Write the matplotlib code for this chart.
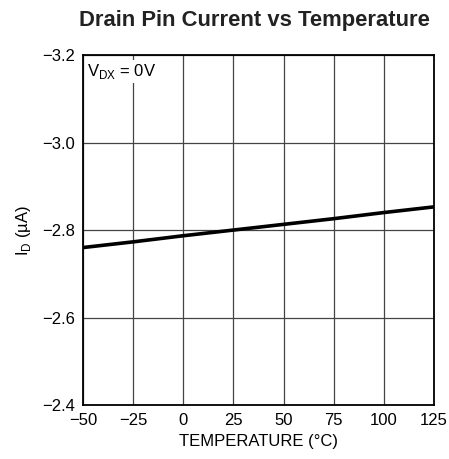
import numpy as np
import matplotlib
matplotlib.use('Agg')
from matplotlib import pyplot as plt

temps = [-50, -25, 0, 25, 50, 75, 100, 125]
current = [-2.760, -2.773, -2.787, -2.800, -2.813, -2.826, -2.840, -2.853]
xticks = [-50, -25, 0, 25, 50, 75, 100, 125]
yticks = [-3.2, -3.0, -2.8, -2.6, -2.4]
ytick_labels = ['\u22123.2', '\u22123.0', '\u22122.8', '\u22122.6', '\u22122.4']
xtick_labels = ['\u221250', '\u221225', '0', '25', '50', '75', '100', '125']

plt.rcParams['font.family'] = ['Liberation Sans', 'DejaVu Sans']

fig = plt.figure(figsize=(4.49, 4.59), dpi=100)
ax = fig.add_axes([0.1849, 0.1176, 0.7817, 0.7624])
ax.plot(temps, current, color='black', linewidth=2.6, zorder=3)
ax.set_xlim(-50, 125)
ax.set_ylim(-2.4, -3.2)
ax.set_xticks(xticks)
ax.set_xticklabels(xtick_labels, fontsize=12)
ax.set_yticks(yticks)
ax.set_yticklabels(ytick_labels, fontsize=12)
ax.tick_params(length=0, pad=6)
ax.grid(True, color='#444444', linewidth=0.9)
for s in ax.spines.values():
    s.set_linewidth(1.3)
ax.set_xlabel('TEMPERATURE (\u00b0C)', fontsize=12, labelpad=4)
ax.set_ylabel('I$_\\mathregular{D}$ (\u00b5A)', fontsize=12, labelpad=6)
ax.text(-48, -3.185, 'V$_\\mathregular{DX}$ = 0V', fontsize=12, va='top', ha='left',
        zorder=4, bbox=dict(facecolor='white', edgecolor='none', pad=1.5))
fig.text(0.566, 0.955, 'Drain Pin Current vs Temperature', fontsize=15.8,
         fontweight='bold', ha='center', va='center', color='#222222')
fig.savefig('out.png', dpi=100)
